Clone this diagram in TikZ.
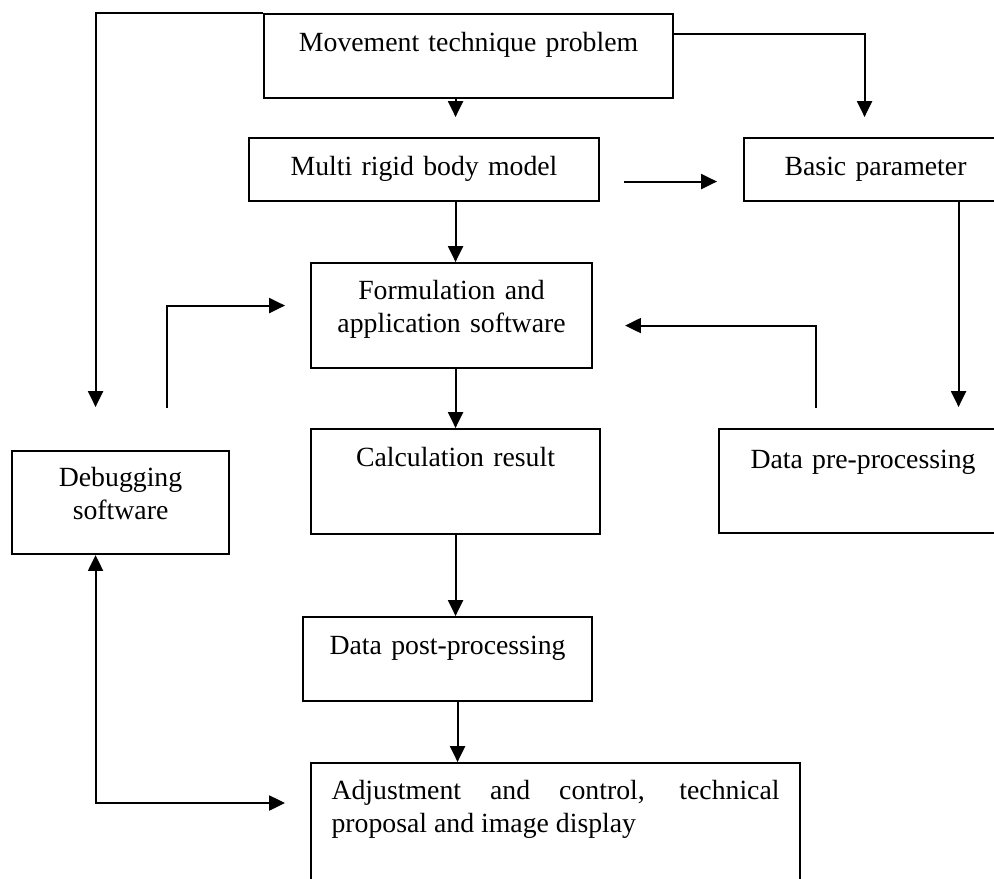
\documentclass[tikz,border=0pt]{standalone}
\usepackage{fontspec}
\setmainfont{Liberation Serif}
\usetikzlibrary{arrows.meta}
\newlength\pxu
\setlength\pxu{0.02cm}
\hyphenpenalty=10000
\tikzset{
	box/.style={draw, line width=1.2pt, inner sep=0pt, anchor=north west, align=center},
	arr/.style={line width=1.2pt, -{Triangle[length=9pt,width=8.5pt]}},
	arrboth/.style={line width=1.2pt, {Triangle[length=9pt,width=8.5pt]}-{Triangle[length=9pt,width=8.5pt]}},
}

\begin{document}
\begin{tikzpicture}[x=0.02cm, y=-0.02cm, font=\fontsize{15.8}{18.8}\selectfont]
			\useasboundingbox (0,0) rectangle (994,879);
			%%%%% START %%%%%
			
			\node[box, text width=409\pxu, text height=37\pxu, text depth=47\pxu] (move) at (263,13) {Movement technique problem};
			\node[box, text width=350\pxu, text height=37\pxu, text depth=26\pxu] (multi) at (248,137) {Multi rigid body model};
			\node[box, text width=263\pxu, text height=37\pxu, text depth=26\pxu] (basic) at (743,137) {Basic parameter};
			\node[box, text width=281\pxu, text height=36\pxu, text depth=69\pxu] (form) at (310,262) {Formulation and\\application software};
			\node[box, text width=289\pxu, text height=37\pxu, text depth=68\pxu] (calc) at (310,428) {Calculation result};
			\node[box, text width=288\pxu, text height=39\pxu, text depth=65\pxu] (pre) at (718,428) {Data pre-processing};
			\node[box, text width=217\pxu, text height=35\pxu, text depth=68\pxu] (debug) at (11,450) {Debugging\\software};
			\node[box, text width=289\pxu, text height=37\pxu, text depth=47\pxu] (post) at (302,616) {Data post-processing};
			\node[box, align=justify, inner xsep=20.5\pxu, text width=448\pxu, text height=36\pxu, text depth=114\pxu] (adjust) at (310,762) {Adjustment and control, technical proposal and image display};
			
			% main column
			\draw[arr, shorten >=20\pxu] (move.south -| calc.north) -- (multi.north -| calc.north);
			\draw[arr] (multi.south -| calc.north) -- (form.north -| calc.north);
			\draw[arr] (form.south -| calc.north) -- (calc.north);
			\draw[arr] (calc.south) -- (post.north -| calc.south);
			\draw[arr] ([xshift=2\pxu]post.south -| calc.south) -- ([xshift=2\pxu]adjust.north -| calc.south);
			
			% right side
			\draw[arr, shorten >=20\pxu] ([yshift=22\pxu]move.east) -| ([xshift=-11\pxu]basic.north);
			\draw[arr, shorten <=24\pxu, shorten >=26\pxu] ([yshift=-12\pxu]multi.east) -- ([yshift=-12\pxu]basic.west);
			\draw[arr, shorten >=21\pxu] ([xshift=83\pxu]basic.south) -- ([xshift=83\pxu]basic.south |- pre.north);
			\draw[arr, shorten <=20\pxu, shorten >=32\pxu] ([xshift=-47\pxu]pre.north) |- ([yshift=-10\pxu]form.east);
			
			% left side
			\draw[arr, shorten >=43\pxu] (move.north west) -| ([xshift=-25\pxu]debug.north);
			\draw[arr, shorten <=42\pxu, shorten >=25\pxu] ([xshift=46\pxu]debug.north) |- ([yshift=10\pxu]form.west);
			\draw[arrboth, shorten >=25\pxu] ([xshift=-25\pxu]debug.south) |- ([yshift=-41\pxu]adjust.north west);
			
			%%%%% END %%%%%
\end{tikzpicture}
\end{document}
